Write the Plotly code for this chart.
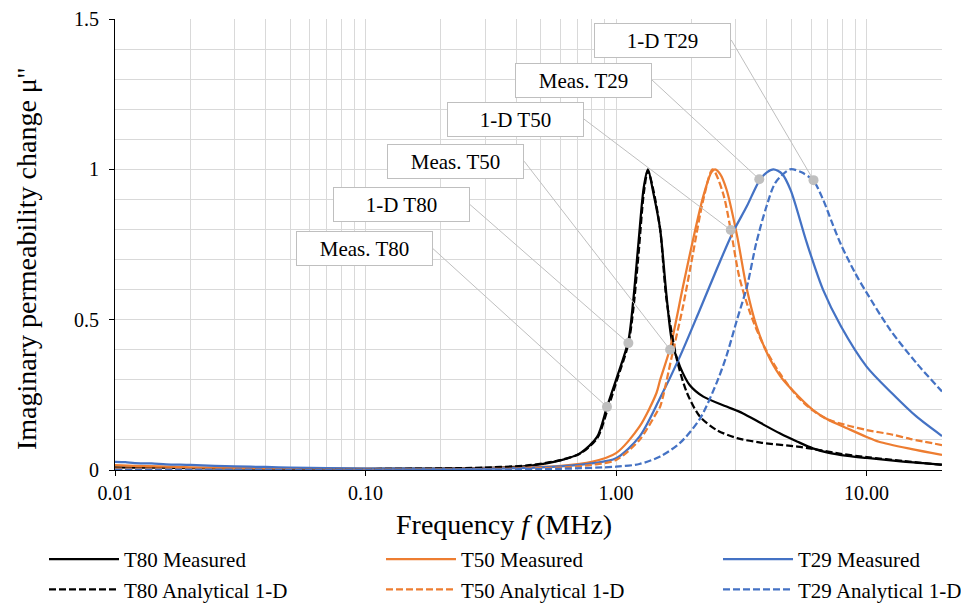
import math
import plotly.graph_objects as go

# ---------------- data ----------------
t80_meas_f = [0.01, 0.012, 0.015, 0.02, 0.03, 0.05, 0.1, 0.2, 0.3, 0.45, 0.6, 0.72, 0.84, 0.92, 1.0, 1.12,
              1.17, 1.23, 1.29, 1.34, 1.41, 1.5, 1.59, 1.67, 1.8, 1.97, 2.23, 2.76, 3.2, 3.78, 4.5, 5.3,
              6.1, 7.0, 8.4, 10.0, 14.0, 20.0]
t80_meas_y = [0.009, 0.008, 0.008, 0.006, 0.005, 0.004, 0.004, 0.005, 0.007, 0.014, 0.032, 0.056, 0.11, 0.21,
              0.30, 0.43, 0.56, 0.76, 0.94, 1.0, 0.92, 0.80, 0.58, 0.43, 0.344, 0.282, 0.244, 0.211, 0.189,
              0.156, 0.122, 0.094, 0.072, 0.058, 0.047, 0.04, 0.028, 0.018]

t80_ana_f = [0.01, 0.1, 0.3, 0.45, 0.6, 0.72, 0.84, 0.92, 1.0, 1.12, 1.17, 1.23, 1.29, 1.34, 1.41, 1.5,
             1.59, 1.75, 1.92, 2.16, 2.52, 3.04, 3.78, 5.3, 6.1, 8.0, 10.0, 14.0, 20.0]
t80_ana_y = [0.002, 0.003, 0.008, 0.016, 0.033, 0.055, 0.105, 0.195, 0.29, 0.42, 0.53, 0.72, 0.92, 0.995,
             0.93, 0.80, 0.567, 0.367, 0.256, 0.178, 0.133, 0.106, 0.091, 0.078, 0.07, 0.053, 0.043, 0.03,
             0.017]

t50_meas_f = [0.01, 0.012, 0.015, 0.02, 0.03, 0.05, 0.1, 0.2, 0.4, 0.6, 0.8, 1.0, 1.24, 1.45, 1.5, 1.643,
              1.85, 2.03, 2.23, 2.4, 2.48, 2.6, 2.76, 3.04, 3.33, 3.63, 4.0, 4.5, 5.0, 6.1, 7.0, 8.4, 10.0,
              11.2, 15.0, 20.0]
t50_meas_y = [0.016, 0.014, 0.012, 0.009, 0.007, 0.005, 0.004, 0.004, 0.008, 0.014, 0.027, 0.056, 0.144,
              0.256, 0.30, 0.405, 0.61, 0.767, 0.911, 0.99, 1.0, 0.985, 0.933, 0.78, 0.60, 0.48, 0.39, 0.315,
              0.27, 0.20, 0.168, 0.138, 0.11, 0.094, 0.07, 0.05]

t50_ana_f = [0.01, 0.1, 0.3, 0.6, 0.8, 1.0, 1.24, 1.45, 1.5, 1.67, 1.85, 2.03, 2.23, 2.43, 2.67, 2.87,
             3.1, 3.43, 3.9, 4.5, 5.3, 6.1, 7.0, 8.4, 10.0, 12.6, 15.0, 20.0]
t50_ana_y = [0.005, 0.002, 0.003, 0.008, 0.017, 0.033, 0.1, 0.19, 0.211, 0.378, 0.544, 0.722, 0.9, 1.0,
             0.922, 0.798, 0.644, 0.522, 0.411, 0.322, 0.244, 0.198, 0.168, 0.148, 0.133, 0.118, 0.103,
             0.083]

t29_meas_f = [0.01, 0.011, 0.012, 0.014, 0.016, 0.02, 0.025, 0.03, 0.04, 0.05, 0.07, 0.1, 0.2, 0.4, 0.6,
              0.8, 1.0, 1.24, 1.5, 1.8, 2.16, 2.52, 2.92, 3.33, 3.73, 4.0, 4.25, 4.6, 4.98, 5.77, 6.7, 7.9,
              10.0, 12.6, 15.8, 20.0]
t29_meas_y = [0.027, 0.026, 0.023, 0.022, 0.019, 0.017, 0.014, 0.012, 0.01, 0.008, 0.006, 0.005, 0.004,
              0.006, 0.012, 0.022, 0.039, 0.111, 0.24, 0.378, 0.533, 0.667, 0.789, 0.878, 0.962, 0.99, 1.0,
              0.985, 0.93, 0.756, 0.6, 0.478, 0.344, 0.256, 0.178, 0.113]

t29_ana_f = [0.01, 0.1, 0.3, 0.6, 1.0, 1.24, 1.5, 1.8, 2.16, 2.52, 2.76, 3.04, 3.33, 3.63, 3.99, 4.33,
             4.95, 5.5, 6.14, 6.7, 7.3, 7.9, 9.0, 10.0, 12.4, 15.8, 20.0]
t29_ana_y = [0.001, 0.001, 0.002, 0.004, 0.011, 0.02, 0.045, 0.09, 0.17, 0.29, 0.38, 0.5, 0.61, 0.756,
             0.878, 0.956, 1.0, 0.99, 0.962, 0.9, 0.82, 0.75, 0.655, 0.59, 0.467, 0.356, 0.261]

series_names = ["T80 Measured", "T50 Measured", "T29 Measured",
                "T80 Analytical 1-D", "T50 Analytical 1-D", "T29 Analytical 1-D"]

# data-label points on the curves and their label boxes
label_texts = ["Meas. T80", "1-D T80", "Meas. T50", "1-D T50", "Meas. T29", "1-D T29"]
label_point_f = [0.92, 1.12, 1.643, 2.87, 3.73, 6.14]
label_point_y = [0.21, 0.422, 0.40, 0.798, 0.967, 0.964]
label_box_right_f = [0.1854, 0.261, 0.4297, 0.745, 1.392, 2.884]
label_box_mid_y = [0.737, 0.883, 1.027, 1.167, 1.297, 1.43]

x_tick_vals = [0.01, 0.1, 1, 10]
x_tick_text = ["0.01", "0.10", "1.00", "10.00"]
x_minor_vals = [m * d for d in (0.01, 0.1, 1) for m in range(2, 10)] + [20]

# ---------------- styling ----------------
BLACK, ORANGE, BLUE = "#000000", "#ED7D31", "#4472C4"
FONT = "'Liberation Serif', 'Times New Roman', Times, serif"
DASH = "7px,3px"

fig = go.Figure()

specs = [
    (t80_meas_f, t80_meas_y, BLACK, "solid", "legend"),
    (t50_meas_f, t50_meas_y, ORANGE, "solid", "legend2"),
    (t29_meas_f, t29_meas_y, BLUE, "solid", "legend3"),
    (t80_ana_f, t80_ana_y, BLACK, DASH, "legend"),
    (t50_ana_f, t50_ana_y, ORANGE, DASH, "legend2"),
    (t29_ana_f, t29_ana_y, BLUE, DASH, "legend3"),
]
for (fx, fy, col, dash, lg), name in zip(specs, series_names):
    fig.add_trace(go.Scatter(
        x=fx, y=fy, mode="lines", name=name, legend=lg,
        line=dict(color=col, width=2.25, dash=dash, shape="spline", smoothing=0.8),
    ))

# leader lines
for bf, by, pf, py in zip(label_box_right_f, label_box_mid_y, label_point_f, label_point_y):
    fig.add_trace(go.Scatter(x=[bf, pf], y=[by, py], mode="lines",
                             line=dict(color="#bfbfbf", width=1), showlegend=False,
                             hoverinfo="skip"))
# label markers
fig.add_trace(go.Scatter(x=label_point_f, y=label_point_y, mode="markers",
                         marker=dict(color="#bfbfbf", size=10), showlegend=False,
                         hoverinfo="skip"))

for txt, bf, by in zip(label_texts, label_box_right_f, label_box_mid_y):
    fig.add_annotation(x=math.log10(bf), y=by, xref="x", yref="y", text=txt,
                       xanchor="right", yanchor="middle", showarrow=False,
                       font=dict(family=FONT, size=21, color="#000"),
                       bgcolor="white", bordercolor="#bfbfbf", borderwidth=1,
                       borderpad=2, width=131, height=29)

# axis titles as annotations
fig.add_annotation(text="Imaginary permeability change μ''", xref="paper", yref="paper",
                   x=(26 - 115) / 827, y=(470 - 259) / 451, textangle=-90,
                   showarrow=False, xanchor="center", yanchor="middle",
                   font=dict(family=FONT, size=28, color="#000"))
fig.add_annotation(text="Frequency <i>f</i> (MHz)", xref="paper", yref="paper",
                   x=(504 - 115) / 827, y=(470 - 524) / 451,
                   showarrow=False, xanchor="center", yanchor="middle",
                   font=dict(family=FONT, size=28, color="#000"))

GRID = "#d9d9d9"
fig.update_xaxes(type="log", range=[-2, math.log10(20)],
                 tickvals=x_tick_vals, ticktext=x_tick_text,
                 ticks="outside", ticklen=5, tickcolor="#000",
                 showline=True, linecolor="#000", linewidth=1,
                 showgrid=True, gridcolor=GRID, gridwidth=1,
                 minor=dict(tickvals=x_minor_vals, showgrid=True, gridcolor=GRID, ticks=""),
                 tickfont=dict(family=FONT, size=20, color="#000"), zeroline=False)
fig.update_yaxes(range=[0, 1.5], tickvals=[0, 0.5, 1, 1.5], ticktext=["0", "0.5", "1", "1.5"],
                 ticks="outside", ticklen=5, tickcolor="#000",
                 showline=True, linecolor="#000", linewidth=1,
                 showgrid=True, gridcolor=GRID, gridwidth=1,
                 minor=dict(dtick=0.1, showgrid=True, gridcolor=GRID, ticks=""),
                 tickfont=dict(family=FONT, size=20, color="#000"), zeroline=False,
                 ticklabelstandoff=6)

leg_common = dict(orientation="v", yanchor="top", xanchor="left", y=(470 - 539) / 451,
                  font=dict(family=FONT, size=21, color="#000"), bgcolor="rgba(0,0,0,0)",
                  itemwidth=70, tracegroupgap=0)
# the page body adds an 8px margin, so the figure is 8px smaller and margins shifted
fig.update_layout(
    width=961, height=595,
    margin=dict(l=107, r=27, t=11, b=133, autoexpand=False),
    paper_bgcolor="white", plot_bgcolor="white",
    font=dict(family=FONT, color="#000"),
    legend=dict(x=(44 - 115) / 827, **leg_common),
    legend2=dict(x=(381 - 115) / 827, **leg_common),
    legend3=dict(x=(718 - 115) / 827, **leg_common),
    showlegend=True,
)

fig.write_html("out.html")
